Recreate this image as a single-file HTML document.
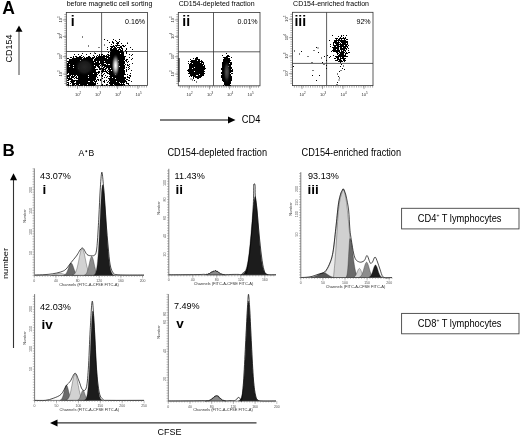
<!DOCTYPE html>
<html><head><meta charset="utf-8"><style>
html,body{margin:0;padding:0;background:#fff;width:520px;height:436px;overflow:hidden}
svg{display:block;filter:blur(0.3px)}
</style></head><body><svg width="520" height="436" viewBox="0 0 520 436" font-family='"Liberation Sans", sans-serif'><defs><radialGradient id="g1"><stop offset="0" stop-color="#fff"/><stop offset="0.3" stop-color="#ccc"/><stop offset="0.65" stop-color="#555"/><stop offset="1" stop-color="#000" stop-opacity="0"/></radialGradient><radialGradient id="g2"><stop offset="0" stop-color="#262626"/><stop offset="0.6" stop-color="#1a1a1a"/><stop offset="1" stop-color="#000" stop-opacity="0"/></radialGradient><radialGradient id="g3"><stop offset="0" stop-color="#555"/><stop offset="0.5" stop-color="#333"/><stop offset="1" stop-color="#000" stop-opacity="0"/></radialGradient></defs><text x="2.2" y="14.3" font-size="17.5" text-anchor="start" font-weight="bold" >A</text><line x1="19" y1="75" x2="19" y2="31" stroke="#444" stroke-width="1"/><path d="M15.5 31.8L22.5 31.8L19 25.5Z" fill="#000"/><text x="0" y="0" font-size="9" text-anchor="middle" font-weight="normal" transform="translate(12.2,48.5) rotate(-90)">CD154</text><rect x="66.3" y="12.5" width="81.2" height="73.0" fill="none" stroke="#333" stroke-width="0.8"/><line x1="101.6" y1="12.5" x2="101.6" y2="85.5" stroke="#333" stroke-width="0.8"/><line x1="66.3" y1="51.5" x2="147.5" y2="51.5" stroke="#333" stroke-width="0.8"/><path d="M64.3 14.5h2M64.3 16.8h2M64.3 19.1h2M64.3 21.4h2M64.3 23.7h2M64.3 26.0h2M64.3 28.3h2M64.3 30.6h2M64.3 32.9h2M64.3 35.2h2M64.3 37.5h2M64.3 39.8h2M64.3 42.1h2M64.3 44.4h2M64.3 46.7h2M64.3 49.0h2M64.3 51.3h2M64.3 53.6h2M64.3 55.9h2M64.3 58.2h2M64.3 60.5h2M64.3 62.8h2M64.3 65.1h2M64.3 67.4h2M64.3 69.7h2M64.3 72.0h2M64.3 74.3h2M64.3 76.6h2M64.3 78.9h2M64.3 81.2h2M64.3 83.5h2M62.8 19.9h3.5M62.8 36.5h3.5M62.8 56.7h3.5M62.8 74.0h3.5M68.3 85.5v2M70.6 85.5v2M72.9 85.5v2M75.2 85.5v2M77.5 85.5v2M79.8 85.5v2M82.1 85.5v2M84.4 85.5v2M86.7 85.5v2M89.0 85.5v2M91.3 85.5v2M93.6 85.5v2M95.9 85.5v2M98.2 85.5v2M100.5 85.5v2M102.8 85.5v2M105.1 85.5v2M107.4 85.5v2M109.7 85.5v2M112.0 85.5v2M114.3 85.5v2M116.6 85.5v2M118.9 85.5v2M121.2 85.5v2M123.5 85.5v2M125.8 85.5v2M128.1 85.5v2M130.4 85.5v2M132.7 85.5v2M135.0 85.5v2M137.3 85.5v2M139.6 85.5v2M141.9 85.5v2M144.2 85.5v2M146.5 85.5v2M77.5 85.5v3.5M97.5 85.5v3.5M117.5 85.5v3.5M138.0 85.5v3.5" stroke="#555" stroke-width="0.5"/><text font-size="4.2" transform="translate(61.699999999999996,22.5) rotate(-90)" fill="#333">10<tspan font-size="3" dy="-2.2">5</tspan></text><text font-size="4.2" transform="translate(61.699999999999996,39.1) rotate(-90)" fill="#333">10<tspan font-size="3" dy="-2.2">4</tspan></text><text font-size="4.2" transform="translate(61.699999999999996,59.300000000000004) rotate(-90)" fill="#333">10<tspan font-size="3" dy="-2.2">3</tspan></text><text font-size="4.2" transform="translate(61.699999999999996,76.6) rotate(-90)" fill="#333">10<tspan font-size="3" dy="-2.2">2</tspan></text><text font-size="4.2" x="74.9" y="95.8" fill="#333">10<tspan font-size="3" dy="-2.2">2</tspan></text><text font-size="4.2" x="94.9" y="95.8" fill="#333">10<tspan font-size="3" dy="-2.2">3</tspan></text><text font-size="4.2" x="114.9" y="95.8" fill="#333">10<tspan font-size="3" dy="-2.2">4</tspan></text><text font-size="4.2" x="135.4" y="95.8" fill="#333">10<tspan font-size="3" dy="-2.2">5</tspan></text><text x="66.7" y="6" font-size="7" text-anchor="start" font-weight="normal" >before magnetic cell sorting</text><text x="70.8" y="25.5" font-size="14" text-anchor="start" font-weight="bold" >i</text><text x="145.2" y="23.8" font-size="7.1" text-anchor="end" font-weight="normal" >0.16%</text><rect x="178.3" y="12.5" width="81.69999999999999" height="73.3" fill="none" stroke="#333" stroke-width="0.8"/><line x1="213.5" y1="12.5" x2="213.5" y2="85.8" stroke="#333" stroke-width="0.8"/><line x1="178.3" y1="51.8" x2="260" y2="51.8" stroke="#333" stroke-width="0.8"/><path d="M176.3 14.5h2M176.3 16.8h2M176.3 19.1h2M176.3 21.4h2M176.3 23.7h2M176.3 26.0h2M176.3 28.3h2M176.3 30.6h2M176.3 32.9h2M176.3 35.2h2M176.3 37.5h2M176.3 39.8h2M176.3 42.1h2M176.3 44.4h2M176.3 46.7h2M176.3 49.0h2M176.3 51.3h2M176.3 53.6h2M176.3 55.9h2M176.3 58.2h2M176.3 60.5h2M176.3 62.8h2M176.3 65.1h2M176.3 67.4h2M176.3 69.7h2M176.3 72.0h2M176.3 74.3h2M176.3 76.6h2M176.3 78.9h2M176.3 81.2h2M176.3 83.5h2M174.8 19.9h3.5M174.8 36.5h3.5M174.8 56.7h3.5M174.8 74.0h3.5M180.3 85.8v2M182.6 85.8v2M184.9 85.8v2M187.2 85.8v2M189.5 85.8v2M191.8 85.8v2M194.1 85.8v2M196.4 85.8v2M198.7 85.8v2M201.0 85.8v2M203.3 85.8v2M205.6 85.8v2M207.9 85.8v2M210.2 85.8v2M212.5 85.8v2M214.8 85.8v2M217.1 85.8v2M219.4 85.8v2M221.7 85.8v2M224.0 85.8v2M226.3 85.8v2M228.6 85.8v2M230.9 85.8v2M233.2 85.8v2M235.5 85.8v2M237.8 85.8v2M240.1 85.8v2M242.4 85.8v2M244.7 85.8v2M247.0 85.8v2M249.3 85.8v2M251.6 85.8v2M253.9 85.8v2M256.2 85.8v2M258.5 85.8v2M189.0 85.8v3.5M209.5 85.8v3.5M229.5 85.8v3.5M250.0 85.8v3.5" stroke="#555" stroke-width="0.5"/><text font-size="4.2" transform="translate(173.70000000000002,22.5) rotate(-90)" fill="#333">10<tspan font-size="3" dy="-2.2">5</tspan></text><text font-size="4.2" transform="translate(173.70000000000002,39.1) rotate(-90)" fill="#333">10<tspan font-size="3" dy="-2.2">4</tspan></text><text font-size="4.2" transform="translate(173.70000000000002,59.300000000000004) rotate(-90)" fill="#333">10<tspan font-size="3" dy="-2.2">3</tspan></text><text font-size="4.2" transform="translate(173.70000000000002,76.6) rotate(-90)" fill="#333">10<tspan font-size="3" dy="-2.2">2</tspan></text><text font-size="4.2" x="186.4" y="96.1" fill="#333">10<tspan font-size="3" dy="-2.2">2</tspan></text><text font-size="4.2" x="206.9" y="96.1" fill="#333">10<tspan font-size="3" dy="-2.2">3</tspan></text><text font-size="4.2" x="226.9" y="96.1" fill="#333">10<tspan font-size="3" dy="-2.2">4</tspan></text><text font-size="4.2" x="247.4" y="96.1" fill="#333">10<tspan font-size="3" dy="-2.2">5</tspan></text><text x="178.7" y="6" font-size="7" text-anchor="start" font-weight="normal" >CD154-depleted fraction</text><text x="182.3" y="25.5" font-size="14" text-anchor="start" font-weight="bold" >ii</text><text x="257.7" y="23.8" font-size="7.1" text-anchor="end" font-weight="normal" >0.01%</text><rect x="292.4" y="12.3" width="80.60000000000002" height="73.3" fill="none" stroke="#333" stroke-width="0.8"/><line x1="326.6" y1="12.3" x2="326.6" y2="85.6" stroke="#333" stroke-width="0.8"/><line x1="292.4" y1="63.4" x2="373" y2="63.4" stroke="#333" stroke-width="0.8"/><path d="M290.4 14.3h2M290.4 16.6h2M290.4 18.9h2M290.4 21.2h2M290.4 23.5h2M290.4 25.8h2M290.4 28.1h2M290.4 30.4h2M290.4 32.7h2M290.4 35.0h2M290.4 37.3h2M290.4 39.6h2M290.4 41.9h2M290.4 44.2h2M290.4 46.5h2M290.4 48.8h2M290.4 51.1h2M290.4 53.4h2M290.4 55.7h2M290.4 58.0h2M290.4 60.3h2M290.4 62.6h2M290.4 64.9h2M290.4 67.2h2M290.4 69.5h2M290.4 71.8h2M290.4 74.1h2M290.4 76.4h2M290.4 78.7h2M290.4 81.0h2M290.4 83.3h2M288.9 19.3h3.5M288.9 37.7h3.5M288.9 56.2h3.5M288.9 73.6h3.5M294.4 85.6v2M296.7 85.6v2M299.0 85.6v2M301.3 85.6v2M303.6 85.6v2M305.9 85.6v2M308.2 85.6v2M310.5 85.6v2M312.8 85.6v2M315.1 85.6v2M317.4 85.6v2M319.7 85.6v2M322.0 85.6v2M324.3 85.6v2M326.6 85.6v2M328.9 85.6v2M331.2 85.6v2M333.5 85.6v2M335.8 85.6v2M338.1 85.6v2M340.4 85.6v2M342.7 85.6v2M345.0 85.6v2M347.3 85.6v2M349.6 85.6v2M351.9 85.6v2M354.2 85.6v2M356.5 85.6v2M358.8 85.6v2M361.1 85.6v2M363.4 85.6v2M365.7 85.6v2M368.0 85.6v2M370.3 85.6v2M372.6 85.6v2M302.0 85.6v3.5M322.5 85.6v3.5M343.0 85.6v3.5M364.0 85.6v3.5" stroke="#555" stroke-width="0.5"/><text font-size="4.2" transform="translate(287.79999999999995,21.900000000000002) rotate(-90)" fill="#333">10<tspan font-size="3" dy="-2.2">5</tspan></text><text font-size="4.2" transform="translate(287.79999999999995,40.300000000000004) rotate(-90)" fill="#333">10<tspan font-size="3" dy="-2.2">4</tspan></text><text font-size="4.2" transform="translate(287.79999999999995,58.800000000000004) rotate(-90)" fill="#333">10<tspan font-size="3" dy="-2.2">3</tspan></text><text font-size="4.2" transform="translate(287.79999999999995,76.19999999999999) rotate(-90)" fill="#333">10<tspan font-size="3" dy="-2.2">2</tspan></text><text font-size="4.2" x="299.4" y="95.89999999999999" fill="#333">10<tspan font-size="3" dy="-2.2">2</tspan></text><text font-size="4.2" x="319.9" y="95.89999999999999" fill="#333">10<tspan font-size="3" dy="-2.2">3</tspan></text><text font-size="4.2" x="340.4" y="95.89999999999999" fill="#333">10<tspan font-size="3" dy="-2.2">4</tspan></text><text font-size="4.2" x="361.4" y="95.89999999999999" fill="#333">10<tspan font-size="3" dy="-2.2">5</tspan></text><text x="293.1" y="6" font-size="7" text-anchor="start" font-weight="normal" >CD154-enriched fraction</text><text x="294.4" y="25.5" font-size="14" text-anchor="start" font-weight="bold" >iii</text><text x="370.7" y="23.8" font-size="7.1" text-anchor="end" font-weight="normal" >92%</text><path fill="#000" d="M104 39h1v1h-1zM113 39h1v1h-1zM119 39h1v1h-1zM107 40h1v1h-1zM115 40h1v1h-1zM112 41h1v1h-1zM116 41h1v1h-1zM119 41h1v1h-1zM109 42h1v1h-1zM112 42h2v1h-2zM117 42h2v1h-2zM113 43h1v1h-1zM116 43h3v1h-3zM121 43h1v1h-1zM127 43h1v1h-1zM111 44h1v1h-1zM117 44h1v1h-1zM113 45h1v1h-1zM115 45h5v1h-5zM122 45h2v1h-2zM110 46h5v1h-5zM116 46h1v1h-1zM120 46h2v1h-2zM123 46h2v1h-2zM107 47h1v1h-1zM111 47h2v1h-2zM114 47h2v1h-2zM117 47h5v1h-5zM110 48h2v1h-2zM113 48h4v1h-4zM119 48h1v1h-1zM121 48h2v1h-2zM126 48h1v1h-1zM107 49h1v1h-1zM110 49h7v1h-7zM118 49h3v1h-3zM122 49h1v1h-1zM126 49h1v1h-1zM132 49h1v1h-1zM110 50h9v1h-9zM120 50h3v1h-3zM125 50h1v1h-1zM111 51h12v1h-12zM126 51h1v1h-1zM108 52h1v1h-1zM110 52h14v1h-14zM126 52h1v1h-1zM82 53h1v1h-1zM95 53h1v1h-1zM110 53h10v1h-10zM121 53h3v1h-3zM126 53h1v1h-1zM74 54h1v1h-1zM78 54h1v1h-1zM86 54h1v1h-1zM99 54h1v1h-1zM101 54h2v1h-2zM107 54h2v1h-2zM110 54h14v1h-14zM129 54h1v1h-1zM132 54h1v1h-1zM81 55h1v1h-1zM93 55h1v1h-1zM97 55h1v1h-1zM99 55h1v1h-1zM101 55h1v1h-1zM103 55h2v1h-2zM106 55h1v1h-1zM108 55h16v1h-16zM131 55h1v1h-1zM73 56h1v1h-1zM75 56h2v1h-2zM79 56h2v1h-2zM83 56h1v1h-1zM88 56h2v1h-2zM94 56h1v1h-1zM96 56h1v1h-1zM98 56h11v1h-11zM110 56h16v1h-16zM70 57h2v1h-2zM73 57h1v1h-1zM76 57h7v1h-7zM84 57h1v1h-1zM86 57h5v1h-5zM92 57h3v1h-3zM96 57h9v1h-9zM106 57h19v1h-19zM129 57h1v1h-1zM67 58h2v1h-2zM72 58h10v1h-10zM83 58h11v1h-11zM95 58h12v1h-12zM108 58h17v1h-17zM132 58h1v1h-1zM69 59h24v1h-24zM94 59h31v1h-31zM126 59h2v1h-2zM131 59h1v1h-1zM69 60h11v1h-11zM81 60h12v1h-12zM94 60h24v1h-24zM119 60h5v1h-5zM125 60h2v1h-2zM67 61h29v1h-29zM97 61h2v1h-2zM100 61h4v1h-4zM105 61h20v1h-20zM126 61h1v1h-1zM128 61h1v1h-1zM68 62h17v1h-17zM86 62h8v1h-8zM95 62h4v1h-4zM100 62h25v1h-25zM127 62h1v1h-1zM67 63h37v1h-37zM106 63h12v1h-12zM119 63h6v1h-6zM132 63h1v1h-1zM67 64h2v1h-2zM70 64h30v1h-30zM101 64h5v1h-5zM107 64h1v1h-1zM110 64h14v1h-14zM125 64h1v1h-1zM127 64h1v1h-1zM129 64h1v1h-1zM67 65h6v1h-6zM74 65h20v1h-20zM95 65h4v1h-4zM100 65h1v1h-1zM102 65h23v1h-23zM127 65h2v1h-2zM67 66h2v1h-2zM70 66h8v1h-8zM79 66h17v1h-17zM97 66h3v1h-3zM102 66h1v1h-1zM104 66h15v1h-15zM120 66h5v1h-5zM129 66h1v1h-1zM67 67h6v1h-6zM74 67h8v1h-8zM83 67h13v1h-13zM98 67h2v1h-2zM103 67h2v1h-2zM106 67h19v1h-19zM126 67h1v1h-1zM128 67h1v1h-1zM67 68h11v1h-11zM79 68h16v1h-16zM99 68h5v1h-5zM105 68h2v1h-2zM108 68h2v1h-2zM111 68h4v1h-4zM116 68h9v1h-9zM129 68h1v1h-1zM67 69h31v1h-31zM99 69h2v1h-2zM102 69h4v1h-4zM108 69h16v1h-16zM126 69h1v1h-1zM128 69h1v1h-1zM67 70h29v1h-29zM102 70h2v1h-2zM105 70h1v1h-1zM107 70h1v1h-1zM109 70h2v1h-2zM112 70h13v1h-13zM126 70h1v1h-1zM131 70h1v1h-1zM67 71h14v1h-14zM82 71h14v1h-14zM98 71h2v1h-2zM101 71h6v1h-6zM108 71h17v1h-17zM126 71h1v1h-1zM67 72h33v1h-33zM102 72h1v1h-1zM106 72h2v1h-2zM109 72h16v1h-16zM67 73h1v1h-1zM69 73h24v1h-24zM94 73h3v1h-3zM98 73h1v1h-1zM101 73h1v1h-1zM104 73h1v1h-1zM107 73h18v1h-18zM130 73h1v1h-1zM69 74h29v1h-29zM103 74h1v1h-1zM109 74h6v1h-6zM116 74h10v1h-10zM127 74h1v1h-1zM67 75h4v1h-4zM72 75h1v1h-1zM74 75h2v1h-2zM77 75h11v1h-11zM89 75h8v1h-8zM99 75h1v1h-1zM101 75h2v1h-2zM105 75h1v1h-1zM110 75h14v1h-14zM129 75h2v1h-2zM67 76h3v1h-3zM71 76h4v1h-4zM76 76h1v1h-1zM78 76h19v1h-19zM102 76h1v1h-1zM107 76h1v1h-1zM109 76h15v1h-15zM127 76h1v1h-1zM130 76h1v1h-1zM67 77h1v1h-1zM69 77h1v1h-1zM71 77h3v1h-3zM75 77h2v1h-2zM78 77h10v1h-10zM89 77h7v1h-7zM97 77h1v1h-1zM104 77h1v1h-1zM106 77h1v1h-1zM110 77h2v1h-2zM113 77h13v1h-13zM127 77h3v1h-3zM67 78h5v1h-5zM74 78h1v1h-1zM76 78h20v1h-20zM102 78h1v1h-1zM108 78h7v1h-7zM116 78h10v1h-10zM129 78h1v1h-1zM68 79h5v1h-5zM78 79h18v1h-18zM97 79h2v1h-2zM100 79h1v1h-1zM109 79h16v1h-16zM126 79h2v1h-2zM67 80h2v1h-2zM71 80h24v1h-24zM96 80h1v1h-1zM98 80h1v1h-1zM100 80h1v1h-1zM104 80h1v1h-1zM106 80h1v1h-1zM109 80h17v1h-17zM128 80h2v1h-2zM70 81h5v1h-5zM76 81h12v1h-12zM90 81h3v1h-3zM94 81h3v1h-3zM103 81h2v1h-2zM108 81h1v1h-1zM110 81h6v1h-6zM117 81h10v1h-10zM131 81h1v1h-1zM67 82h2v1h-2zM71 82h3v1h-3zM76 82h18v1h-18zM95 82h1v1h-1zM104 82h1v1h-1zM107 82h1v1h-1zM109 82h10v1h-10zM120 82h5v1h-5zM126 82h1v1h-1zM68 83h1v1h-1zM70 83h1v1h-1zM72 83h24v1h-24zM97 83h1v1h-1zM109 83h11v1h-11zM121 83h1v1h-1zM123 83h1v1h-1zM126 83h3v1h-3zM67 84h2v1h-2zM72 84h3v1h-3zM76 84h3v1h-3zM80 84h7v1h-7zM88 84h8v1h-8zM102 84h1v1h-1zM106 84h2v1h-2zM110 84h3v1h-3zM114 84h11v1h-11zM128 84h1v1h-1zM68 85h1v1h-1zM70 85h1v1h-1zM72 85h2v1h-2zM75 85h1v1h-1zM78 85h5v1h-5zM84 85h11v1h-11zM101 85h2v1h-2zM104 85h1v1h-1zM106 85h1v1h-1zM109 85h5v1h-5zM115 85h8v1h-8zM124 85h1v1h-1zM129 85h1v1h-1z"/><path fill="#000" d="M82.0 36.5h1v1h-1zM104.0 44.5h1v1h-1zM98.5 47.0h1v1h-1zM88.0 45.5h1v1h-1zM127.0 42.5h1v1h-1zM130.0 47.0h1v1h-1zM125.0 45.0h1v1h-1zM94.0 52.5h1v1h-1zM90.0 53.0h1v1h-1z"/><ellipse cx="84.5" cy="67" rx="10" ry="9" fill="url(#g2)"/><ellipse cx="115.6" cy="65.5" rx="4.3" ry="12" fill="url(#g1)"/><path fill="#000" d="M226 53h1v1h-1zM222 55h1v1h-1zM227 55h2v1h-2zM226 56h4v1h-4zM196 57h2v1h-2zM223 57h5v1h-5zM231 57h1v1h-1zM193 58h1v1h-1zM195 58h3v1h-3zM224 58h6v1h-6zM190 59h1v1h-1zM195 59h5v1h-5zM223 59h7v1h-7zM191 60h6v1h-6zM198 60h2v1h-2zM201 60h1v1h-1zM223 60h8v1h-8zM188 61h1v1h-1zM190 61h13v1h-13zM223 61h7v1h-7zM191 62h9v1h-9zM201 62h3v1h-3zM222 62h10v1h-10zM188 63h1v1h-1zM190 63h2v1h-2zM193 63h9v1h-9zM203 63h1v1h-1zM222 63h7v1h-7zM230 63h2v1h-2zM189 64h15v1h-15zM222 64h10v1h-10zM189 65h14v1h-14zM204 65h1v1h-1zM222 65h9v1h-9zM189 66h16v1h-16zM222 66h4v1h-4zM227 66h1v1h-1zM229 66h2v1h-2zM189 67h5v1h-5zM195 67h10v1h-10zM222 67h10v1h-10zM189 68h3v1h-3zM193 68h13v1h-13zM221 68h11v1h-11zM188 69h17v1h-17zM221 69h6v1h-6zM228 69h3v1h-3zM232 69h1v1h-1zM187 70h17v1h-17zM222 70h11v1h-11zM188 71h6v1h-6zM195 71h10v1h-10zM222 71h11v1h-11zM189 72h15v1h-15zM221 72h10v1h-10zM188 73h17v1h-17zM221 73h9v1h-9zM231 73h2v1h-2zM190 74h9v1h-9zM200 74h4v1h-4zM222 74h9v1h-9zM190 75h6v1h-6zM198 75h6v1h-6zM221 75h10v1h-10zM189 76h1v1h-1zM191 76h1v1h-1zM193 76h9v1h-9zM221 76h11v1h-11zM193 77h1v1h-1zM195 77h6v1h-6zM221 77h11v1h-11zM193 78h1v1h-1zM197 78h2v1h-2zM222 78h10v1h-10zM222 79h10v1h-10zM222 80h10v1h-10zM223 81h8v1h-8zM224 82h7v1h-7zM224 83h7v1h-7zM224 84h6v1h-6zM223 85h1v1h-1zM225 85h6v1h-6z"/><path fill="#000" d="M192.0 79.5h1v1h-1zM194.0 80.0h1v1h-1zM196.0 81.5h1v1h-1zM190.5 78.5h1v1h-1z"/><ellipse cx="226.8" cy="72" rx="3.6" ry="12" fill="url(#g3)"/><rect x="177.9" y="58" width="1.8" height="24" fill="#3a3a3a"/><path fill="#000" d="M332 35h1v1h-1zM341 35h1v1h-1zM343 35h1v1h-1zM346 35h1v1h-1zM338 36h1v1h-1zM341 36h1v1h-1zM340 37h1v1h-1zM343 37h1v1h-1zM345 37h1v1h-1zM335 38h3v1h-3zM339 38h7v1h-7zM336 39h1v1h-1zM338 39h2v1h-2zM341 39h1v1h-1zM344 39h1v1h-1zM346 39h2v1h-2zM329 40h1v1h-1zM334 40h12v1h-12zM334 41h3v1h-3zM338 41h1v1h-1zM340 41h8v1h-8zM333 42h7v1h-7zM341 42h7v1h-7zM333 43h1v1h-1zM335 43h4v1h-4zM340 43h1v1h-1zM342 43h4v1h-4zM347 43h1v1h-1zM330 44h1v1h-1zM333 44h1v1h-1zM336 44h12v1h-12zM333 45h6v1h-6zM340 45h4v1h-4zM345 45h2v1h-2zM348 45h1v1h-1zM330 46h1v1h-1zM334 46h2v1h-2zM337 46h11v1h-11zM332 47h7v1h-7zM340 47h2v1h-2zM343 47h3v1h-3zM347 47h1v1h-1zM333 48h6v1h-6zM340 48h7v1h-7zM348 48h1v1h-1zM333 49h3v1h-3zM337 49h2v1h-2zM340 49h5v1h-5zM346 49h1v1h-1zM332 50h8v1h-8zM341 50h1v1h-1zM343 50h3v1h-3zM348 50h1v1h-1zM331 51h1v1h-1zM333 51h7v1h-7zM341 51h3v1h-3zM345 51h1v1h-1zM336 52h2v1h-2zM339 52h6v1h-6zM346 52h1v1h-1zM348 52h2v1h-2zM337 53h2v1h-2zM340 53h4v1h-4zM345 53h3v1h-3zM337 54h1v1h-1zM339 54h5v1h-5zM345 54h1v1h-1zM333 55h1v1h-1zM338 55h8v1h-8zM335 56h13v1h-13zM336 57h3v1h-3zM340 57h1v1h-1zM342 57h2v1h-2zM334 58h2v1h-2zM337 58h2v1h-2zM340 58h6v1h-6zM337 59h4v1h-4zM343 59h2v1h-2zM335 60h3v1h-3zM339 60h3v1h-3zM343 60h3v1h-3zM338 61h5v1h-5zM344 61h1v1h-1zM340 62h1v1h-1z"/><path fill="#000" d="M299.0 53.5h1.0v1.0h-1.0zM307.5 56.0h1.0v1.0h-1.0zM313.5 50.0h1.0v1.0h-1.0zM317.5 47.5h1.0v1.0h-1.0zM321.0 57.5h1.0v1.0h-1.0zM323.5 64.0h1.0v1.0h-1.0zM326.0 65.0h1.0v1.0h-1.0zM312.5 70.0h1.0v1.0h-1.0zM319.0 75.0h1.0v1.0h-1.0zM316.0 80.0h1.0v1.0h-1.0zM324.0 56.0h1.0v1.0h-1.0zM322.0 62.0h1.0v1.0h-1.0zM326.0 60.0h1.0v1.0h-1.0zM327.0 55.0h1.0v1.0h-1.0zM329.0 57.0h1.0v1.0h-1.0zM330.0 56.0h1.0v1.0h-1.0zM326.0 68.0h1.0v1.0h-1.0zM316.0 47.0h1.0v1.0h-1.0zM318.0 52.0h1.0v1.0h-1.0zM312.0 75.0h1.0v1.0h-1.0zM301.0 51.0h1.0v1.0h-1.0zM294.0 50.5h1.0v1.0h-1.0zM293.0 66.0h1.0v1.0h-1.0zM311.5 62.0h1.0v1.0h-1.0zM340.0 66.0h1.0v1.0h-1.0zM342.0 68.0h1.0v1.0h-1.0zM339.0 71.0h1.0v1.0h-1.0zM337.0 73.5h1.0v1.0h-1.0zM338.0 76.0h1.0v1.0h-1.0zM339.0 77.5h1.0v1.0h-1.0zM337.0 82.0h1.0v1.0h-1.0zM341.0 64.0h1.0v1.0h-1.0zM343.0 65.5h1.0v1.0h-1.0zM338.5 79.5h1.0v1.0h-1.0zM336.5 84.0h1.0v1.0h-1.0zM340.5 70.0h1.0v1.0h-1.0zM344.0 69.0h1.0v1.0h-1.0z"/><line x1="160" y1="120" x2="229" y2="120" stroke="#000" stroke-width="1"/><path d="M228 116.5L235.5 120L228 123.5Z" fill="#000"/><text x="0" y="0" font-size="9.3" text-anchor="start" font-weight="normal" transform="translate(241.8,123.1) scale(1,1.12)">CD4</text><text x="2.6" y="155.8" font-size="17" text-anchor="start" font-weight="bold" >B</text><line x1="13.5" y1="348" x2="13.5" y2="180" stroke="#333" stroke-width="1.1"/><path d="M10 180.3L17.1 180.3L13.5 173.3Z" fill="#000"/><text x="0" y="0" font-size="7.6" text-anchor="middle" font-weight="normal" transform="translate(8.4,263.5) rotate(-90)" textLength="31" lengthAdjust="spacingAndGlyphs">number</text><line x1="256.5" y1="422.9" x2="57" y2="422.9" stroke="#333" stroke-width="1.2"/><path d="M57.5 419.4L50 422.9L57.5 426.4Z" fill="#000"/><text x="0" y="0" font-size="9" text-anchor="start" font-weight="normal" transform="translate(157.6,434.6) scale(1,1.1)">CFSE</text><text x="78.6" y="155.8" font-size="8.6" text-anchor="start" font-weight="normal" >A</text><circle cx="86.3" cy="151.3" r="0.95" fill="#111"/><text x="88.6" y="155.8" font-size="8.6" text-anchor="start" font-weight="normal" >B</text><text x="0" y="0" font-size="9.2" text-anchor="start" font-weight="normal" transform="translate(167.4,156.3) scale(1,1.17)">CD154-depleted fraction</text><text x="0" y="0" font-size="9.2" text-anchor="start" font-weight="normal" transform="translate(301.5,156.3) scale(1,1.17)">CD154-enriched fraction</text><rect x="401.6" y="208.3" width="117.4" height="20.6" fill="#fff" stroke="#444" stroke-width="0.9"/><text x="0" y="0" font-size="9.3" text-anchor="start" font-weight="normal" transform="translate(417.8,221.8) scale(1,1.17)">CD4<tspan font-size="5" dy="-4">+</tspan><tspan dy="4"> T lymphocytes</tspan></text><rect x="401.6" y="313.4" width="117.4" height="20.4" fill="#fff" stroke="#444" stroke-width="0.9"/><text x="0" y="0" font-size="9.3" text-anchor="start" font-weight="normal" transform="translate(417.8,326.7) scale(1,1.17)">CD8<tspan font-size="5" dy="-4">+</tspan><tspan dy="4"> T lymphocytes</tspan></text><path d="M51.55 275.4L51.55 275.19L51.80 275.16L52.05 275.12L52.30 275.09L52.55 275.05L52.80 275.00L53.05 274.96L53.30 274.91L53.55 274.85L53.80 274.80L54.05 274.74L54.30 274.68L54.55 274.61L54.80 274.54L55.05 274.47L55.30 274.40L55.55 274.32L55.80 274.25L56.05 274.17L56.30 274.10L56.55 274.02L56.80 273.95L57.05 273.88L57.30 273.81L57.55 273.74L57.80 273.68L58.05 273.62L58.30 273.57L58.55 273.53L58.80 273.49L59.05 273.46L59.30 273.43L59.55 273.41L59.80 273.40L60.05 273.40L60.30 273.41L60.55 273.42L60.80 273.44L61.05 273.47L61.30 273.50L61.55 273.54L61.80 273.59L62.05 273.65L62.30 273.70L62.55 273.77L62.80 273.83L63.05 273.90L63.30 273.98L63.55 274.05L63.80 274.13L64.05 274.20L64.30 274.28L64.55 274.35L64.80 274.43L65.05 274.50L65.30 274.57L65.55 274.64L65.80 274.70L66.05 274.76L66.30 274.82L66.55 274.88L66.80 274.93L67.05 274.98L67.30 275.02L67.55 275.06L67.80 275.10L68.05 275.14L68.30 275.17L68.55 275.20L68.55 275.4Z" fill="#d2d2d2" stroke="#222" stroke-width="0.35"/><path d="M63.80 275.4L63.80 275.16L64.05 275.09L64.30 275.00L64.55 274.89L64.80 274.75L65.05 274.58L65.30 274.38L65.55 274.14L65.80 273.86L66.05 273.53L66.30 273.16L66.55 272.74L66.80 272.27L67.05 271.74L67.30 271.17L67.55 270.56L67.80 269.90L68.05 269.22L68.30 268.51L68.55 267.80L68.80 267.08L69.05 266.39L69.30 265.72L69.55 265.10L69.80 264.55L70.05 264.06L70.30 263.67L70.55 263.37L70.80 263.18L71.05 263.10L71.30 263.14L71.55 263.28L71.80 263.54L72.05 263.89L72.30 264.34L72.55 264.87L72.80 265.47L73.05 266.12L73.30 266.80L73.55 267.51L73.80 268.23L74.05 268.94L74.30 269.63L74.55 270.30L74.80 270.93L75.05 271.52L75.30 272.06L75.55 272.56L75.80 273.00L76.05 273.39L76.30 273.74L76.55 274.03L76.80 274.29L77.05 274.50L77.30 274.68L77.55 274.83L77.80 274.96L78.05 275.05L78.30 275.13L78.55 275.20L78.55 275.4Z" fill="#6a6a6a" stroke="#222" stroke-width="0.35"/><path d="M72.30 275.4L72.30 275.18L72.55 275.12L72.80 275.04L73.05 274.95L73.30 274.84L73.55 274.71L73.80 274.55L74.05 274.35L74.30 274.13L74.55 273.86L74.80 273.55L75.05 273.19L75.30 272.78L75.55 272.31L75.80 271.77L76.05 271.17L76.30 270.50L76.55 269.76L76.80 268.95L77.05 268.06L77.30 267.10L77.55 266.08L77.80 264.99L78.05 263.84L78.30 262.65L78.55 261.42L78.80 260.16L79.05 258.89L79.30 257.63L79.55 256.38L79.80 255.17L80.05 254.01L80.30 252.93L80.55 251.94L80.80 251.05L81.05 250.28L81.30 249.64L81.55 249.15L81.80 248.81L82.05 248.63L82.30 248.61L82.55 248.76L82.80 249.07L83.05 249.53L83.30 250.14L83.55 250.88L83.80 251.75L84.05 252.72L84.30 253.79L84.55 254.93L84.80 256.13L85.05 257.37L85.30 258.64L85.55 259.91L85.80 261.17L86.05 262.40L86.30 263.61L86.55 264.76L86.80 265.86L87.05 266.90L87.30 267.87L87.55 268.78L87.80 269.60L88.05 270.36L88.30 271.04L88.55 271.66L88.80 272.21L89.05 272.69L89.30 273.11L89.55 273.48L89.80 273.80L90.05 274.08L90.30 274.31L90.55 274.51L90.80 274.68L91.05 274.81L91.30 274.93L91.55 275.02L91.80 275.10L92.05 275.17L92.05 275.4Z" fill="#d2d2d2" stroke="#222" stroke-width="0.35"/><path d="M84.30 275.4L84.30 275.16L84.55 275.08L84.80 274.98L85.05 274.85L85.30 274.69L85.55 274.48L85.80 274.23L86.05 273.93L86.30 273.57L86.55 273.14L86.80 272.63L87.05 272.05L87.30 271.38L87.55 270.63L87.80 269.80L88.05 268.89L88.30 267.90L88.55 266.85L88.80 265.76L89.05 264.62L89.30 263.48L89.55 262.34L89.80 261.24L90.05 260.20L90.30 259.24L90.55 258.40L90.80 257.69L91.05 257.13L91.30 256.74L91.55 256.53L91.80 256.52L92.05 256.68L92.30 257.04L92.55 257.56L92.80 258.24L93.05 259.06L93.30 260.00L93.55 261.03L93.80 262.12L94.05 263.25L94.30 264.39L94.55 265.53L94.80 266.64L95.05 267.70L95.30 268.70L95.55 269.63L95.80 270.47L96.05 271.24L96.30 271.92L96.55 272.52L96.80 273.04L97.05 273.49L97.30 273.86L97.55 274.18L97.80 274.44L98.05 274.65L98.30 274.82L98.55 274.96L98.80 275.07L99.05 275.15L99.05 275.4Z" fill="#8c8c8c" stroke="#222" stroke-width="0.35"/><path d="M93.55 275.4L93.55 275.19L93.80 275.11L94.05 274.99L94.30 274.85L94.55 274.65L94.80 274.39L95.05 274.06L95.30 273.64L95.55 273.11L95.80 272.44L96.05 271.61L96.30 270.59L96.55 269.36L96.80 267.87L97.05 266.12L97.30 264.05L97.55 261.66L97.80 258.92L98.05 255.81L98.30 252.32L98.55 248.47L98.80 244.26L99.05 239.73L99.30 234.91L99.55 229.87L99.80 224.67L100.05 219.39L100.30 214.14L100.55 209.01L100.80 204.11L101.05 199.55L101.30 195.45L101.55 191.89L101.80 188.99L102.05 186.80L102.30 185.40L102.55 184.82L102.80 184.96L103.05 185.59L103.30 186.70L103.55 188.27L103.80 190.27L104.05 192.68L104.30 195.45L104.55 198.54L104.80 201.91L105.05 205.52L105.30 209.30L105.55 213.22L105.80 217.22L106.05 221.26L106.30 225.28L106.55 229.26L106.80 233.16L107.05 236.93L107.30 240.55L107.55 244.00L107.80 247.27L108.05 250.33L108.30 253.18L108.55 255.81L108.80 258.22L109.05 260.42L109.30 262.40L109.55 264.19L109.80 265.78L110.05 267.19L110.30 268.43L110.55 269.51L110.80 270.46L111.05 271.27L111.30 271.97L111.55 272.57L111.80 273.07L112.05 273.50L112.30 273.85L112.55 274.15L112.80 274.39L113.05 274.59L113.30 274.76L113.55 274.89L113.80 275.00L114.05 275.09L114.30 275.16L114.30 275.4Z" fill="#1c1c1c" stroke="#222" stroke-width="0.35"/><path d="M34.80 275.00C36.50 274.93 42.03 274.80 45.00 274.60C47.97 274.40 50.00 274.23 52.60 273.80C55.20 273.37 58.40 272.75 60.60 272.00C62.80 271.25 64.05 270.88 65.80 269.30C67.55 267.72 69.33 264.72 71.10 262.50C72.87 260.28 74.55 258.42 76.40 256.00C78.25 253.58 80.43 248.25 82.20 248.00C83.97 247.75 85.42 253.20 87.00 254.50C88.58 255.80 90.40 255.72 91.70 255.80C93.00 255.88 94.02 255.80 94.80 255.00C95.58 254.20 95.95 253.50 96.40 251.00C96.85 248.50 97.08 245.83 97.50 240.00C97.92 234.17 98.45 224.33 98.90 216.00C99.35 207.67 99.72 197.30 100.20 190.00C100.68 182.70 101.25 172.87 101.80 172.20C102.35 171.53 102.98 180.53 103.50 186.00C104.02 191.47 104.43 198.50 104.90 205.00C105.37 211.50 105.77 218.17 106.30 225.00C106.83 231.83 107.45 239.33 108.10 246.00C108.75 252.67 109.32 260.45 110.20 265.00C111.08 269.55 112.20 271.70 113.40 273.30C114.60 274.90 115.47 274.32 117.40 274.60C119.33 274.88 120.57 274.93 125.00 275.00C129.43 275.07 140.83 275.00 144.00 275.00" fill="none" stroke="#000" stroke-width="0.7"/><line x1="34.3" y1="168.4" x2="34.3" y2="275.4" stroke="#444" stroke-width="0.7"/><line x1="34.3" y1="275.4" x2="144" y2="275.4" stroke="#444" stroke-width="0.7"/><path d="M32.5 275.4h1.8M32.5 272.8h1.8M32.5 270.2h1.8M32.5 267.6h1.8M32.5 265.0h1.8M32.5 262.4h1.8M32.5 259.8h1.8M32.5 257.2h1.8M32.5 254.6h1.8M32.5 252.0h1.8M32.5 249.4h1.8M32.5 246.8h1.8M32.5 244.2h1.8M32.5 241.6h1.8M32.5 239.0h1.8M32.5 236.4h1.8M32.5 233.8h1.8M32.5 231.2h1.8M32.5 228.6h1.8M32.5 226.0h1.8M32.5 223.4h1.8M32.5 220.8h1.8M32.5 218.2h1.8M32.5 215.6h1.8M32.5 213.0h1.8M32.5 210.4h1.8M32.5 207.8h1.8M32.5 205.2h1.8M32.5 202.6h1.8M32.5 200.0h1.8M32.5 197.4h1.8M32.5 194.8h1.8M32.5 192.2h1.8M32.5 189.6h1.8M32.5 187.0h1.8M32.5 184.4h1.8M32.5 181.8h1.8M32.5 179.2h1.8M32.5 176.6h1.8M32.5 174.0h1.8M32.5 171.4h1.8M32.5 168.8h1.8M34.3 275.4v1.5M37.0 275.4v1.5M39.7 275.4v1.5M42.4 275.4v1.5M45.1 275.4v1.5M47.8 275.4v1.5M50.5 275.4v1.5M53.2 275.4v1.5M55.9 275.4v1.5M58.7 275.4v1.5M61.4 275.4v1.5M64.1 275.4v1.5M66.8 275.4v1.5M69.5 275.4v1.5M72.2 275.4v1.5M74.9 275.4v1.5M77.6 275.4v1.5M80.3 275.4v1.5M83.0 275.4v1.5M85.7 275.4v1.5M88.4 275.4v1.5M91.1 275.4v1.5M93.8 275.4v1.5M96.5 275.4v1.5M99.2 275.4v1.5M102.0 275.4v1.5M104.7 275.4v1.5M107.4 275.4v1.5M110.1 275.4v1.5M112.8 275.4v1.5M115.5 275.4v1.5M118.2 275.4v1.5M120.9 275.4v1.5M123.6 275.4v1.5M126.3 275.4v1.5M129.0 275.4v1.5M131.7 275.4v1.5M134.4 275.4v1.5M137.1 275.4v1.5M139.8 275.4v1.5M142.5 275.4v1.5M34.3 275.4v3M55.9 275.4v3M77.6 275.4v3M99.2 275.4v3M120.9 275.4v3M142.6 275.4v3" stroke="#666" stroke-width="0.4"/><text font-size="3.5" x="34.3" y="281.9" text-anchor="middle" fill="#555">0</text><text font-size="3.5" x="55.9" y="281.9" text-anchor="middle" fill="#555">40</text><text font-size="3.5" x="77.6" y="281.9" text-anchor="middle" fill="#555">80</text><text font-size="3.5" x="99.2" y="281.9" text-anchor="middle" fill="#555">120</text><text font-size="3.5" x="120.9" y="281.9" text-anchor="middle" fill="#555">160</text><text font-size="3.5" x="142.6" y="281.9" text-anchor="middle" fill="#555">200</text><text font-size="4" x="89.0" y="285.59999999999997" text-anchor="middle" fill="#333">Channels (FITC-A-CFSE FITC-A)</text><text font-size="3.8" transform="translate(25.699999999999996,216) rotate(-90)" text-anchor="middle" fill="#444">Number</text><text font-size="3.6" transform="translate(31.699999999999996,253) rotate(-90)" text-anchor="middle" fill="#555">50</text><text font-size="3.6" transform="translate(31.699999999999996,232) rotate(-90)" text-anchor="middle" fill="#555">100</text><text font-size="3.6" transform="translate(31.699999999999996,211) rotate(-90)" text-anchor="middle" fill="#555">150</text><text font-size="3.6" transform="translate(31.699999999999996,190) rotate(-90)" text-anchor="middle" fill="#555">200</text><text x="40.1" y="179.2" font-size="9.1" text-anchor="start" font-weight="normal" >43.07%</text><text x="42.6" y="193.8" font-size="13.5" text-anchor="start" font-weight="bold" >i</text><path d="M206.00 274.90C206.00 274.84 205.85 274.68 206.00 274.57C206.15 274.45 206.60 274.23 206.90 274.20C207.20 274.16 207.50 274.46 207.80 274.35C208.10 274.23 208.40 273.65 208.70 273.52C209.00 273.38 209.30 273.62 209.60 273.52C209.90 273.42 210.20 273.18 210.50 272.92C210.80 272.66 211.10 272.14 211.40 271.96C211.70 271.78 212.00 271.95 212.30 271.82C212.60 271.69 212.90 271.24 213.20 271.18C213.50 271.13 213.80 271.59 214.10 271.48C214.40 271.36 214.70 270.60 215.00 270.50C215.30 270.39 215.60 270.71 215.90 270.87C216.20 271.03 216.50 271.34 216.80 271.43C217.10 271.52 217.40 271.24 217.70 271.41C218.00 271.58 218.30 272.23 218.60 272.48C218.90 272.73 219.20 272.70 219.50 272.90C219.80 273.09 220.10 273.50 220.40 273.66C220.70 273.82 221.00 273.77 221.30 273.88C221.60 273.99 221.90 274.21 222.20 274.31C222.50 274.42 222.80 274.48 223.10 274.50C223.40 274.53 223.70 274.44 224.00 274.48C224.30 274.52 224.73 274.67 224.90 274.74C225.07 274.81 224.98 274.87 225.00 274.90Z" fill="#8a8a8a" stroke="#222" stroke-width="0.35"/><path d="M241.05 274.9L241.05 274.66L241.30 274.61L241.55 274.56L241.80 274.49L242.05 274.41L242.30 274.32L242.55 274.21L242.80 274.08L243.05 273.94L243.30 273.77L243.55 273.57L243.80 273.34L244.05 273.08L244.30 272.78L244.55 272.44L244.80 272.06L245.05 271.62L245.30 271.12L245.55 270.56L245.80 269.94L246.05 269.24L246.30 268.46L246.55 267.59L246.80 266.63L247.05 265.57L247.30 264.40L247.55 263.13L247.80 261.74L248.05 260.23L248.30 258.60L248.55 256.85L248.80 254.96L249.05 252.95L249.30 250.80L249.55 248.54L249.80 246.15L250.05 243.64L250.30 241.03L250.55 238.31L250.80 235.52L251.05 232.64L251.30 229.72L251.55 226.75L251.80 223.77L252.05 220.80L252.30 217.86L252.55 214.98L252.80 212.18L253.05 209.51L253.30 206.99L253.55 204.65L253.80 202.52L254.05 200.65L254.30 199.07L254.55 197.82L254.80 196.95L255.05 196.52L255.30 196.75L255.55 197.58L255.80 198.87L256.05 200.56L256.30 202.60L256.55 204.93L256.80 207.52L257.05 210.32L257.30 213.29L257.55 216.38L257.80 219.56L258.05 222.80L258.30 226.05L258.55 229.29L258.80 232.49L259.05 235.62L259.30 238.66L259.55 241.61L259.80 244.43L260.05 247.12L260.30 249.66L260.55 252.07L260.80 254.32L261.05 256.41L261.30 258.36L261.55 260.15L261.80 261.80L262.05 263.30L262.30 264.67L262.55 265.91L262.80 267.02L263.05 268.02L263.30 268.92L263.55 269.72L263.80 270.42L264.05 271.05L264.30 271.59L264.55 272.07L264.80 272.49L265.05 272.85L265.30 273.17L265.55 273.44L265.80 273.67L266.05 273.87L266.30 274.04L266.55 274.18L266.80 274.30L267.05 274.41L267.30 274.49L267.55 274.57L267.80 274.63L268.05 274.68L268.05 274.9Z" fill="#1c1c1c" stroke="#222" stroke-width="0.35"/><path d="M168.60 274.80C171.33 274.78 179.77 274.75 185.00 274.70C190.23 274.65 196.83 274.57 200.00 274.50C203.17 274.43 203.00 274.29 204.00 274.30C205.00 274.31 205.52 274.58 206.00 274.57C206.48 274.55 206.60 274.23 206.90 274.20C207.20 274.16 207.50 274.46 207.80 274.35C208.10 274.23 208.40 273.65 208.70 273.52C209.00 273.38 209.30 273.62 209.60 273.52C209.90 273.42 210.20 273.18 210.50 272.92C210.80 272.66 211.10 272.14 211.40 271.96C211.70 271.78 212.00 271.95 212.30 271.82C212.60 271.69 212.90 271.24 213.20 271.18C213.50 271.13 213.80 271.59 214.10 271.48C214.40 271.36 214.70 270.60 215.00 270.50C215.30 270.39 215.60 270.71 215.90 270.87C216.20 271.03 216.50 271.34 216.80 271.43C217.10 271.52 217.40 271.24 217.70 271.41C218.00 271.58 218.30 272.23 218.60 272.48C218.90 272.73 219.20 272.70 219.50 272.90C219.80 273.09 220.10 273.50 220.40 273.66C220.70 273.82 221.00 273.77 221.30 273.88C221.60 273.99 221.90 274.21 222.20 274.31C222.50 274.42 222.80 274.48 223.10 274.50C223.40 274.53 223.70 274.44 224.00 274.48C224.30 274.52 223.90 274.74 224.90 274.74C225.90 274.75 227.82 274.56 230.00 274.50C232.18 274.44 236.17 274.37 238.00 274.40C239.83 274.43 240.35 274.72 241.00 274.69C241.65 274.67 241.60 274.55 241.90 274.25C242.20 273.96 242.50 273.20 242.80 272.92C243.10 272.65 243.40 272.81 243.70 272.59C244.00 272.37 244.30 271.67 244.60 271.59C244.90 271.50 245.20 271.74 245.50 272.09C245.80 272.45 246.07 274.39 246.40 273.71C246.73 273.03 246.90 271.95 247.50 268.00C248.10 264.05 249.17 257.67 250.00 250.00C250.83 242.33 251.90 231.00 252.50 222.00C253.10 213.00 253.40 202.17 253.60 196.00C253.80 189.83 253.47 186.83 253.70 185.00C253.93 183.17 254.73 183.17 255.00 185.00C255.27 186.83 254.97 191.83 255.30 196.00C255.63 200.17 256.38 203.83 257.00 210.00C257.62 216.17 258.25 225.33 259.00 233.00C259.75 240.67 260.67 249.83 261.50 256.00C262.33 262.17 263.08 266.93 264.00 270.00C264.92 273.07 265.00 273.62 267.00 274.40C269.00 275.18 274.50 274.65 276.00 274.70" fill="none" stroke="#000" stroke-width="0.7"/><line x1="168.8" y1="168.8" x2="168.8" y2="274.9" stroke="#444" stroke-width="0.7"/><line x1="168.8" y1="274.9" x2="276" y2="274.9" stroke="#444" stroke-width="0.7"/><path d="M167.0 274.9h1.8M167.0 272.3h1.8M167.0 269.7h1.8M167.0 267.1h1.8M167.0 264.5h1.8M167.0 261.9h1.8M167.0 259.3h1.8M167.0 256.7h1.8M167.0 254.1h1.8M167.0 251.5h1.8M167.0 248.9h1.8M167.0 246.3h1.8M167.0 243.7h1.8M167.0 241.1h1.8M167.0 238.5h1.8M167.0 235.9h1.8M167.0 233.3h1.8M167.0 230.7h1.8M167.0 228.1h1.8M167.0 225.5h1.8M167.0 222.9h1.8M167.0 220.3h1.8M167.0 217.7h1.8M167.0 215.1h1.8M167.0 212.5h1.8M167.0 209.9h1.8M167.0 207.3h1.8M167.0 204.7h1.8M167.0 202.1h1.8M167.0 199.5h1.8M167.0 196.9h1.8M167.0 194.3h1.8M167.0 191.7h1.8M167.0 189.1h1.8M167.0 186.5h1.8M167.0 183.9h1.8M167.0 181.3h1.8M167.0 178.7h1.8M167.0 176.1h1.8M167.0 173.5h1.8M167.0 170.9h1.8M168.8 274.9v1.5M171.8 274.9v1.5M174.8 274.9v1.5M177.8 274.9v1.5M180.8 274.9v1.5M183.8 274.9v1.5M186.8 274.9v1.5M189.8 274.9v1.5M192.8 274.9v1.5M195.8 274.9v1.5M198.8 274.9v1.5M201.8 274.9v1.5M204.8 274.9v1.5M207.8 274.9v1.5M210.8 274.9v1.5M213.8 274.9v1.5M216.8 274.9v1.5M219.8 274.9v1.5M222.8 274.9v1.5M225.8 274.9v1.5M228.8 274.9v1.5M231.8 274.9v1.5M234.8 274.9v1.5M237.8 274.9v1.5M240.8 274.9v1.5M243.8 274.9v1.5M246.8 274.9v1.5M249.8 274.9v1.5M252.8 274.9v1.5M255.8 274.9v1.5M258.8 274.9v1.5M261.8 274.9v1.5M264.8 274.9v1.5M267.8 274.9v1.5M270.8 274.9v1.5M273.8 274.9v1.5M168.8 274.9v3M192.8 274.9v3M216.8 274.9v3M240.8 274.9v3M264.8 274.9v3" stroke="#666" stroke-width="0.4"/><text font-size="3.5" x="168.8" y="281.4" text-anchor="middle" fill="#555">0</text><text font-size="3.5" x="192.8" y="281.4" text-anchor="middle" fill="#555">40</text><text font-size="3.5" x="216.8" y="281.4" text-anchor="middle" fill="#555">80</text><text font-size="3.5" x="240.8" y="281.4" text-anchor="middle" fill="#555">120</text><text font-size="3.5" x="264.8" y="281.4" text-anchor="middle" fill="#555">160</text><text font-size="4" x="223.5" y="285.09999999999997" text-anchor="middle" fill="#333">Channels (FITC-A-CFSE FITC-A)</text><text font-size="3.8" transform="translate(160.20000000000002,208) rotate(-90)" text-anchor="middle" fill="#444">Number</text><text font-size="3.6" transform="translate(166.20000000000002,254.5) rotate(-90)" text-anchor="middle" fill="#555">20</text><text font-size="3.6" transform="translate(166.20000000000002,236) rotate(-90)" text-anchor="middle" fill="#555">40</text><text font-size="3.6" transform="translate(166.20000000000002,218) rotate(-90)" text-anchor="middle" fill="#555">60</text><text font-size="3.6" transform="translate(166.20000000000002,199.5) rotate(-90)" text-anchor="middle" fill="#555">80</text><text font-size="3.6" transform="translate(166.20000000000002,183) rotate(-90)" text-anchor="middle" fill="#555">100</text><text x="174.6" y="179" font-size="9.1" text-anchor="start" font-weight="normal" >11.43%</text><text x="175.5" y="193.8" font-size="13.5" text-anchor="start" font-weight="bold" >ii</text><path d="M319.00 277.50C319.92 276.78 322.78 275.28 324.50 273.20C326.22 271.12 327.90 268.37 329.30 265.00C330.70 261.63 331.82 259.00 332.90 253.00C333.98 247.00 334.88 237.00 335.80 229.00C336.72 221.00 337.60 210.75 338.40 205.00C339.20 199.25 339.93 196.92 340.60 194.50C341.27 192.08 341.97 191.33 342.40 190.50C342.83 189.67 342.77 187.92 343.20 189.50C343.63 191.08 344.53 185.33 345.00 200.00C345.47 214.67 345.83 264.58 346.00 277.50Z" fill="#ececec" stroke="#222" stroke-width="0.35"/><path d="M311.05 277.5L311.05 277.28L311.30 277.26L311.55 277.22L311.80 277.19L312.05 277.15L312.30 277.11L312.55 277.06L312.80 277.01L313.05 276.96L313.30 276.90L313.55 276.84L313.80 276.77L314.05 276.70L314.30 276.62L314.55 276.53L314.80 276.44L315.05 276.35L315.30 276.25L315.55 276.14L315.80 276.03L316.05 275.92L316.30 275.80L316.55 275.67L316.80 275.54L317.05 275.41L317.30 275.27L317.55 275.14L317.80 274.99L318.05 274.85L318.30 274.71L318.55 274.56L318.80 274.41L319.05 274.27L319.30 274.13L319.55 273.99L319.80 273.85L320.05 273.72L320.30 273.59L320.55 273.47L320.80 273.35L321.05 273.24L321.30 273.14L321.55 273.05L321.80 272.97L322.05 272.90L322.30 272.84L322.55 272.79L322.80 272.75L323.05 272.72L323.30 272.70L323.55 272.70L323.80 272.71L324.05 272.74L324.30 272.79L324.55 272.85L324.80 272.92L325.05 273.02L325.30 273.12L325.55 273.24L325.80 273.37L326.05 273.51L326.30 273.66L326.55 273.81L326.80 273.97L327.05 274.14L327.30 274.31L327.55 274.48L327.80 274.66L328.05 274.83L328.30 275.00L328.55 275.17L328.80 275.34L329.05 275.50L329.30 275.65L329.55 275.80L329.80 275.94L330.05 276.08L330.30 276.21L330.55 276.33L330.80 276.44L331.05 276.55L331.30 276.64L331.55 276.74L331.80 276.82L332.05 276.90L332.30 276.97L332.55 277.03L332.80 277.09L333.05 277.14L333.30 277.18L333.55 277.23L333.80 277.26L334.05 277.30L334.05 277.5Z" fill="#555" stroke="#222" stroke-width="0.35"/><path d="M333.50 277.50C333.75 274.75 334.50 267.25 335.00 261.00C335.50 254.75 336.00 247.50 336.50 240.00C337.00 232.50 337.48 222.33 338.00 216.00C338.52 209.67 339.03 205.58 339.60 202.00C340.17 198.42 340.80 196.53 341.40 194.50C342.00 192.47 342.67 190.13 343.20 189.80C343.73 189.47 344.10 190.80 344.60 192.50C345.10 194.20 345.67 196.42 346.20 200.00C346.73 203.58 347.30 209.17 347.80 214.00C348.30 218.83 348.73 223.67 349.20 229.00C349.67 234.33 350.13 240.33 350.60 246.00C351.07 251.67 351.52 257.75 352.00 263.00C352.48 268.25 353.25 275.08 353.50 277.50Z" fill="#d0d0d0" stroke="#222" stroke-width="0.35"/><path d="M345.80 277.5L345.80 277.29L346.05 277.11L346.30 276.82L346.55 276.35L346.80 275.61L347.05 274.53L347.30 272.99L347.55 270.90L347.80 268.19L348.05 264.84L348.30 260.91L348.55 256.56L348.80 252.03L349.05 247.64L349.30 243.76L349.55 240.77L349.80 238.96L350.05 238.51L350.30 238.71L350.55 239.20L350.80 239.96L351.05 240.97L351.30 242.23L351.55 243.69L351.80 245.33L352.05 247.12L352.30 249.02L352.55 251.00L352.80 253.03L353.05 255.07L353.30 257.09L353.55 259.06L353.80 260.97L354.05 262.79L354.30 264.51L354.55 266.11L354.80 267.59L355.05 268.94L355.30 270.16L355.55 271.25L355.80 272.22L356.05 273.07L356.30 273.82L356.55 274.46L356.80 275.00L357.05 275.47L357.30 275.86L357.55 276.18L357.80 276.45L358.05 276.67L358.30 276.85L358.55 276.99L358.80 277.11L359.05 277.20L359.30 277.27L359.30 277.5Z" fill="#6a6a6a" stroke="#222" stroke-width="0.35"/><path d="M353.55 277.5L353.55 277.24L353.80 277.15L354.05 277.03L354.30 276.89L354.55 276.71L354.80 276.49L355.05 276.23L355.30 275.91L355.55 275.55L355.80 275.14L356.05 274.68L356.30 274.17L356.55 273.61L356.80 273.02L357.05 272.41L357.30 271.79L357.55 271.18L357.80 270.59L358.05 270.04L358.30 269.56L358.55 269.15L358.80 268.83L359.05 268.61L359.30 268.51L359.55 268.52L359.80 268.65L360.05 268.88L360.30 269.22L360.55 269.65L360.80 270.15L361.05 270.71L361.30 271.30L361.55 271.92L361.80 272.54L362.05 273.14L362.30 273.72L362.55 274.27L362.80 274.77L363.05 275.23L363.30 275.63L363.55 275.98L363.80 276.28L364.05 276.54L364.30 276.75L364.55 276.92L364.80 277.06L365.05 277.17L365.30 277.25L365.30 277.5Z" fill="#d4d4d4" stroke="#222" stroke-width="0.35"/><path d="M359.05 277.5L359.05 277.27L359.30 277.20L359.55 277.11L359.80 277.00L360.05 276.86L360.30 276.69L360.55 276.48L360.80 276.23L361.05 275.93L361.30 275.58L361.55 275.18L361.80 274.72L362.05 274.19L362.30 273.60L362.55 272.95L362.80 272.24L363.05 271.48L363.30 270.66L363.55 269.81L363.80 268.93L364.05 268.04L364.30 267.15L364.55 266.29L364.80 265.46L365.05 264.69L365.30 264.00L365.55 263.40L365.80 262.91L366.05 262.54L366.30 262.30L366.55 262.20L366.80 262.25L367.05 262.43L367.30 262.74L367.55 263.19L367.80 263.75L368.05 264.40L368.30 265.14L368.55 265.95L368.80 266.80L369.05 267.69L369.30 268.58L369.55 269.46L369.80 270.33L370.05 271.16L370.30 271.94L370.55 272.67L370.80 273.35L371.05 273.96L371.30 274.51L371.55 275.00L371.80 275.43L372.05 275.80L372.30 276.12L372.55 276.38L372.80 276.61L373.05 276.79L373.30 276.95L373.55 277.07L373.80 277.17L374.05 277.25L374.05 277.5Z" fill="#8c8c8c" stroke="#222" stroke-width="0.35"/><path d="M368.80 277.5L368.80 277.25L369.05 277.16L369.30 277.06L369.55 276.92L369.80 276.76L370.05 276.55L370.30 276.30L370.55 276.01L370.80 275.66L371.05 275.26L371.30 274.80L371.55 274.27L371.80 273.69L372.05 273.05L372.30 272.36L372.55 271.63L372.80 270.86L373.05 270.08L373.30 269.29L373.55 268.51L373.80 267.77L374.05 267.09L374.30 266.47L374.55 265.94L374.80 265.52L375.05 265.22L375.30 265.04L375.55 265.00L375.80 265.10L376.05 265.32L376.30 265.68L376.55 266.14L376.80 266.71L377.05 267.35L377.30 268.06L377.55 268.82L377.80 269.60L378.05 270.39L378.30 271.17L378.55 271.93L378.80 272.64L379.05 273.31L379.30 273.93L379.55 274.49L379.80 274.99L380.05 275.43L380.30 275.81L380.55 276.13L380.80 276.41L381.05 276.64L381.30 276.83L381.55 276.98L381.80 277.10L382.05 277.20L382.30 277.27L382.30 277.5Z" fill="#1c1c1c" stroke="#222" stroke-width="0.35"/><path d="M300.50 277.50C301.42 277.47 304.08 277.48 306.00 277.30C307.92 277.12 310.00 276.90 312.00 276.40C314.00 275.90 315.92 275.03 318.00 274.30C320.08 273.57 322.62 273.67 324.50 272.00C326.38 270.33 327.90 267.58 329.30 264.30C330.70 261.02 331.82 258.32 332.90 252.30C333.98 246.28 334.88 236.23 335.80 228.20C336.72 220.17 337.60 209.80 338.40 204.10C339.20 198.40 339.93 196.35 340.60 194.00C341.27 191.65 341.95 190.85 342.40 190.00C342.85 189.15 342.98 188.82 343.30 188.90C343.62 188.98 343.83 189.32 344.30 190.50C344.77 191.68 345.38 192.75 346.10 196.00C346.82 199.25 347.98 204.67 348.60 210.00C349.22 215.33 349.40 223.37 349.80 228.00C350.20 232.63 350.20 232.97 351.00 237.80C351.80 242.63 353.20 252.97 354.60 257.00C356.00 261.03 357.80 261.38 359.40 262.00C361.00 262.62 362.92 261.77 364.20 260.70C365.48 259.63 366.10 255.22 367.10 255.60C368.10 255.98 369.30 261.93 370.20 263.00C371.10 264.07 371.70 263.00 372.50 262.00C373.30 261.00 374.17 257.00 375.00 257.00C375.83 257.00 376.68 260.00 377.50 262.00C378.32 264.00 378.90 266.45 379.90 269.00C380.90 271.55 381.48 275.88 383.50 277.30C385.52 278.72 390.58 277.47 392.00 277.50" fill="none" stroke="#000" stroke-width="0.7"/><line x1="300.8" y1="172.2" x2="300.8" y2="277.5" stroke="#444" stroke-width="0.7"/><line x1="300.8" y1="277.5" x2="392" y2="277.5" stroke="#444" stroke-width="0.7"/><path d="M299.0 277.5h1.8M299.0 274.9h1.8M299.0 272.3h1.8M299.0 269.7h1.8M299.0 267.1h1.8M299.0 264.5h1.8M299.0 261.9h1.8M299.0 259.3h1.8M299.0 256.7h1.8M299.0 254.1h1.8M299.0 251.5h1.8M299.0 248.9h1.8M299.0 246.3h1.8M299.0 243.7h1.8M299.0 241.1h1.8M299.0 238.5h1.8M299.0 235.9h1.8M299.0 233.3h1.8M299.0 230.7h1.8M299.0 228.1h1.8M299.0 225.5h1.8M299.0 222.9h1.8M299.0 220.3h1.8M299.0 217.7h1.8M299.0 215.1h1.8M299.0 212.5h1.8M299.0 209.9h1.8M299.0 207.3h1.8M299.0 204.7h1.8M299.0 202.1h1.8M299.0 199.5h1.8M299.0 196.9h1.8M299.0 194.3h1.8M299.0 191.7h1.8M299.0 189.1h1.8M299.0 186.5h1.8M299.0 183.9h1.8M299.0 181.3h1.8M299.0 178.7h1.8M299.0 176.1h1.8M299.0 173.5h1.8M300.8 277.5v1.5M303.6 277.5v1.5M306.3 277.5v1.5M309.1 277.5v1.5M311.8 277.5v1.5M314.6 277.5v1.5M317.4 277.5v1.5M320.1 277.5v1.5M322.9 277.5v1.5M325.7 277.5v1.5M328.4 277.5v1.5M331.2 277.5v1.5M333.9 277.5v1.5M336.7 277.5v1.5M339.5 277.5v1.5M342.2 277.5v1.5M345.0 277.5v1.5M347.8 277.5v1.5M350.5 277.5v1.5M353.3 277.5v1.5M356.0 277.5v1.5M358.8 277.5v1.5M361.6 277.5v1.5M364.3 277.5v1.5M367.1 277.5v1.5M369.9 277.5v1.5M372.6 277.5v1.5M375.4 277.5v1.5M378.1 277.5v1.5M380.9 277.5v1.5M383.7 277.5v1.5M386.4 277.5v1.5M389.2 277.5v1.5M392.0 277.5v1.5M300.8 277.5v3M322.9 277.5v3M345.0 277.5v3M367.1 277.5v3M389.2 277.5v3" stroke="#666" stroke-width="0.4"/><text font-size="3.5" x="300.8" y="284.0" text-anchor="middle" fill="#555">0</text><text font-size="3.5" x="322.9" y="284.0" text-anchor="middle" fill="#555">50</text><text font-size="3.5" x="345.0" y="284.0" text-anchor="middle" fill="#555">100</text><text font-size="3.5" x="367.1" y="284.0" text-anchor="middle" fill="#555">150</text><text font-size="3.5" x="389.2" y="284.0" text-anchor="middle" fill="#555">200</text><text font-size="4" x="355.5" y="287.7" text-anchor="middle" fill="#333">Channels (FITC-A-CFSE FITC-A)</text><text font-size="3.8" transform="translate(292.2,209) rotate(-90)" text-anchor="middle" fill="#444">Number</text><text font-size="3.6" transform="translate(298.2,234.4) rotate(-90)" text-anchor="middle" fill="#555">50</text><text font-size="3.6" transform="translate(298.2,214.2) rotate(-90)" text-anchor="middle" fill="#555">100</text><text font-size="3.6" transform="translate(298.2,202.5) rotate(-90)" text-anchor="middle" fill="#555">150</text><text font-size="3.6" transform="translate(298.2,189) rotate(-90)" text-anchor="middle" fill="#555">200</text><text x="308" y="179.2" font-size="9.1" text-anchor="start" font-weight="normal" >93.13%</text><text x="307.6" y="193.8" font-size="13.5" text-anchor="start" font-weight="bold" >iii</text><path d="M60.10 400.4L60.10 400.15L60.35 400.05L60.60 399.93L60.85 399.77L61.10 399.56L61.35 399.30L61.60 398.98L61.85 398.60L62.10 398.13L62.35 397.59L62.60 396.96L62.85 396.24L63.10 395.43L63.35 394.55L63.60 393.59L63.85 392.58L64.10 391.54L64.35 390.49L64.60 389.45L64.85 388.46L65.10 387.55L65.35 386.75L65.60 386.08L65.85 385.57L66.10 385.24L66.35 385.10L66.60 385.16L66.85 385.42L67.10 385.86L67.35 386.46L67.60 387.21L67.85 388.09L68.10 389.05L68.35 390.07L68.60 391.12L68.85 392.17L69.10 393.20L69.35 394.17L69.60 395.09L69.85 395.93L70.10 396.68L70.35 397.35L70.60 397.93L70.85 398.42L71.10 398.84L71.35 399.18L71.60 399.46L71.85 399.69L72.10 399.87L72.35 400.01L72.60 400.11L72.85 400.19L72.85 400.4Z" fill="#6a6a6a" stroke="#222" stroke-width="0.35"/><path d="M65.85 400.4L65.85 400.17L66.10 400.11L66.35 400.02L66.60 399.92L66.85 399.80L67.10 399.65L67.35 399.46L67.60 399.24L67.85 398.98L68.10 398.66L68.35 398.30L68.60 397.88L68.85 397.39L69.10 396.83L69.35 396.19L69.60 395.48L69.85 394.69L70.10 393.82L70.35 392.86L70.60 391.83L70.85 390.72L71.10 389.55L71.35 388.31L71.60 387.03L71.85 385.72L72.10 384.39L72.35 383.06L72.60 381.74L72.85 380.47L73.10 379.26L73.35 378.13L73.60 377.10L73.85 376.20L74.10 375.43L74.35 374.81L74.60 374.36L74.85 374.09L75.10 374.00L75.35 374.09L75.60 374.36L75.85 374.81L76.10 375.43L76.35 376.20L76.60 377.10L76.85 378.13L77.10 379.26L77.35 380.47L77.60 381.74L77.85 383.06L78.10 384.39L78.35 385.72L78.60 387.03L78.85 388.31L79.10 389.55L79.35 390.72L79.60 391.83L79.85 392.86L80.10 393.82L80.35 394.69L80.60 395.48L80.85 396.19L81.10 396.83L81.35 397.39L81.60 397.88L81.85 398.30L82.10 398.66L82.35 398.98L82.60 399.24L82.85 399.46L83.10 399.65L83.35 399.80L83.60 399.92L83.85 400.02L84.10 400.11L84.35 400.17L84.35 400.4Z" fill="#d2d2d2" stroke="#222" stroke-width="0.35"/><path d="M77.60 400.4L77.60 400.14L77.85 400.04L78.10 399.90L78.35 399.73L78.60 399.51L78.85 399.24L79.10 398.91L79.35 398.51L79.60 398.04L79.85 397.51L80.10 396.90L80.35 396.24L80.60 395.53L80.85 394.79L81.10 394.03L81.35 393.28L81.60 392.57L81.85 391.92L82.10 391.36L82.35 390.91L82.60 390.60L82.85 390.43L83.10 390.41L83.35 390.55L83.60 390.84L83.85 391.26L84.10 391.80L84.35 392.44L84.60 393.14L84.85 393.88L85.10 394.64L85.35 395.39L85.60 396.10L85.85 396.78L86.10 397.39L86.35 397.94L86.60 398.42L86.85 398.83L87.10 399.18L87.35 399.46L87.60 399.69L87.85 399.87L88.10 400.01L88.35 400.12L88.35 400.4Z" fill="#8c8c8c" stroke="#222" stroke-width="0.35"/><path d="M84.35 400.4L84.35 400.16L84.60 400.07L84.85 399.94L85.10 399.78L85.35 399.56L85.60 399.27L85.85 398.90L86.10 398.43L86.35 397.83L86.60 397.07L86.85 396.14L87.10 394.99L87.35 393.60L87.60 391.93L87.85 389.95L88.10 387.62L88.35 384.92L88.60 381.82L88.85 378.31L89.10 374.40L89.35 370.08L89.60 365.39L89.85 360.37L90.10 355.07L90.35 349.58L90.60 344.00L90.85 338.43L91.10 333.01L91.35 327.88L91.60 323.17L91.85 319.05L92.10 315.64L92.35 313.09L92.60 311.53L92.85 311.12L93.10 311.83L93.35 313.40L93.60 315.73L93.85 318.73L94.10 322.30L94.35 326.34L94.60 330.76L94.85 335.45L95.10 340.31L95.35 345.25L95.60 350.18L95.85 355.03L96.10 359.73L96.35 364.22L96.60 368.46L96.85 372.42L97.10 376.08L97.35 379.41L97.60 382.42L97.85 385.11L98.10 387.50L98.35 389.59L98.60 391.41L98.85 392.98L99.10 394.32L99.35 395.45L99.60 396.40L99.85 397.19L100.10 397.85L100.35 398.38L100.60 398.82L100.85 399.16L101.10 399.44L101.35 399.67L101.60 399.84L101.85 399.97L102.10 400.08L102.35 400.16L102.35 400.4Z" fill="#1c1c1c" stroke="#222" stroke-width="0.35"/><path d="M34.50 400.40C36.30 400.40 42.18 400.75 45.30 400.40C48.42 400.05 50.57 399.32 53.20 398.30C55.83 397.28 58.90 396.42 61.10 394.30C63.30 392.18 64.85 387.80 66.40 385.60C67.95 383.40 68.95 383.17 70.40 381.10C71.85 379.03 73.67 373.22 75.10 373.20C76.53 373.18 77.80 378.28 79.00 381.00C80.20 383.72 81.10 388.33 82.30 389.50C83.50 390.67 85.20 391.38 86.20 388.00C87.20 384.62 87.63 378.93 88.30 369.20C88.97 359.47 89.53 340.95 90.20 329.60C90.87 318.25 91.60 301.10 92.30 301.10C93.00 301.10 93.70 318.25 94.40 329.60C95.10 340.95 95.67 358.63 96.50 369.20C97.33 379.77 98.25 387.93 99.40 393.00C100.55 398.07 101.85 398.37 103.40 399.60C104.95 400.83 101.93 400.27 108.70 400.40C115.47 400.53 138.12 400.40 144.00 400.40" fill="none" stroke="#000" stroke-width="0.7"/><line x1="34.6" y1="294.1" x2="34.6" y2="400.4" stroke="#444" stroke-width="0.7"/><line x1="34.6" y1="400.4" x2="144" y2="400.4" stroke="#444" stroke-width="0.7"/><path d="M32.800000000000004 400.4h1.8M32.800000000000004 397.8h1.8M32.800000000000004 395.2h1.8M32.800000000000004 392.6h1.8M32.800000000000004 390.0h1.8M32.800000000000004 387.4h1.8M32.800000000000004 384.8h1.8M32.800000000000004 382.2h1.8M32.800000000000004 379.6h1.8M32.800000000000004 377.0h1.8M32.800000000000004 374.4h1.8M32.800000000000004 371.8h1.8M32.800000000000004 369.2h1.8M32.800000000000004 366.6h1.8M32.800000000000004 364.0h1.8M32.800000000000004 361.4h1.8M32.800000000000004 358.8h1.8M32.800000000000004 356.2h1.8M32.800000000000004 353.6h1.8M32.800000000000004 351.0h1.8M32.800000000000004 348.4h1.8M32.800000000000004 345.8h1.8M32.800000000000004 343.2h1.8M32.800000000000004 340.6h1.8M32.800000000000004 338.0h1.8M32.800000000000004 335.4h1.8M32.800000000000004 332.8h1.8M32.800000000000004 330.2h1.8M32.800000000000004 327.6h1.8M32.800000000000004 325.0h1.8M32.800000000000004 322.4h1.8M32.800000000000004 319.8h1.8M32.800000000000004 317.2h1.8M32.800000000000004 314.6h1.8M32.800000000000004 312.0h1.8M32.800000000000004 309.4h1.8M32.800000000000004 306.8h1.8M32.800000000000004 304.2h1.8M32.800000000000004 301.6h1.8M32.800000000000004 299.0h1.8M32.800000000000004 296.4h1.8M34.6 400.4v1.5M37.3 400.4v1.5M40.1 400.4v1.5M42.8 400.4v1.5M45.5 400.4v1.5M48.3 400.4v1.5M51.0 400.4v1.5M53.8 400.4v1.5M56.5 400.4v1.5M59.2 400.4v1.5M62.0 400.4v1.5M64.7 400.4v1.5M67.4 400.4v1.5M70.2 400.4v1.5M72.9 400.4v1.5M75.7 400.4v1.5M78.4 400.4v1.5M81.1 400.4v1.5M83.9 400.4v1.5M86.6 400.4v1.5M89.3 400.4v1.5M92.1 400.4v1.5M94.8 400.4v1.5M97.6 400.4v1.5M100.3 400.4v1.5M103.0 400.4v1.5M105.8 400.4v1.5M108.5 400.4v1.5M111.2 400.4v1.5M114.0 400.4v1.5M116.7 400.4v1.5M119.5 400.4v1.5M122.2 400.4v1.5M124.9 400.4v1.5M127.7 400.4v1.5M130.4 400.4v1.5M133.1 400.4v1.5M135.9 400.4v1.5M138.6 400.4v1.5M141.4 400.4v1.5M34.6 400.4v3M56.5 400.4v3M78.4 400.4v3M100.3 400.4v3M122.2 400.4v3M144.1 400.4v3" stroke="#666" stroke-width="0.4"/><text font-size="3.5" x="34.6" y="406.9" text-anchor="middle" fill="#555">0</text><text font-size="3.5" x="56.5" y="406.9" text-anchor="middle" fill="#555">50</text><text font-size="3.5" x="78.4" y="406.9" text-anchor="middle" fill="#555">100</text><text font-size="3.5" x="100.3" y="406.9" text-anchor="middle" fill="#555">150</text><text font-size="3.5" x="122.2" y="406.9" text-anchor="middle" fill="#555">200</text><text font-size="3.5" x="144.1" y="406.9" text-anchor="middle" fill="#555">250</text><text font-size="4" x="89.30000000000001" y="410.59999999999997" text-anchor="middle" fill="#333">Channels (FITC-A-CFSE FITC-A)</text><text font-size="3.8" transform="translate(26.0,338) rotate(-90)" text-anchor="middle" fill="#444">Number</text><text font-size="3.6" transform="translate(32.0,369) rotate(-90)" text-anchor="middle" fill="#555">50</text><text font-size="3.6" transform="translate(32.0,349) rotate(-90)" text-anchor="middle" fill="#555">100</text><text font-size="3.6" transform="translate(32.0,329) rotate(-90)" text-anchor="middle" fill="#555">150</text><text font-size="3.6" transform="translate(32.0,309) rotate(-90)" text-anchor="middle" fill="#555">200</text><text x="40" y="309.6" font-size="9.1" text-anchor="start" font-weight="normal" >42.03%</text><text x="41.6" y="329.3" font-size="13.5" text-anchor="start" font-weight="bold" >iv</text><path d="M205.00 401.00C205.00 401.00 204.85 400.99 205.00 400.98C205.15 400.97 205.60 400.98 205.90 400.94C206.20 400.91 206.50 400.81 206.80 400.77C207.10 400.73 207.40 400.72 207.70 400.71C208.00 400.69 208.30 400.78 208.60 400.71C208.90 400.64 209.20 400.44 209.50 400.30C209.80 400.16 210.10 399.99 210.40 399.86C210.70 399.73 211.00 399.78 211.30 399.52C211.60 399.27 211.90 398.57 212.20 398.34C212.50 398.10 212.80 398.32 213.10 398.10C213.40 397.88 213.70 397.34 214.00 397.02C214.30 396.71 214.60 396.40 214.90 396.22C215.20 396.04 215.50 396.02 215.80 395.94C216.10 395.86 216.40 395.74 216.70 395.73C217.00 395.73 217.30 395.81 217.60 395.91C217.90 396.01 218.20 396.00 218.50 396.32C218.80 396.64 219.10 397.51 219.40 397.84C219.70 398.17 220.00 398.12 220.30 398.32C220.60 398.52 220.90 398.78 221.20 399.05C221.50 399.31 221.80 399.69 222.10 399.93C222.40 400.16 222.70 400.42 223.00 400.49C223.30 400.55 223.60 400.29 223.90 400.34C224.20 400.39 224.50 400.69 224.80 400.77C225.10 400.86 225.50 400.83 225.70 400.87C225.90 400.91 225.95 400.98 226.00 401.00Z" fill="#8a8a8a" stroke="#222" stroke-width="0.35"/><path d="M238.55 401L238.55 400.75L238.80 400.68L239.05 400.58L239.30 400.46L239.55 400.30L239.80 400.11L240.05 399.86L240.30 399.56L240.55 399.19L240.80 398.73L241.05 398.18L241.30 397.51L241.55 396.71L241.80 395.76L242.05 394.63L242.30 393.30L242.55 391.76L242.80 389.97L243.05 387.91L243.30 385.56L243.55 382.91L243.80 379.94L244.05 376.63L244.30 372.98L244.55 368.99L244.80 364.67L245.05 360.05L245.30 355.15L245.55 350.01L245.80 344.69L246.05 339.25L246.30 333.78L246.55 328.36L246.80 323.10L247.05 318.10L247.30 313.49L247.55 309.39L247.80 305.93L248.05 303.26L248.30 301.53L248.55 301.04L248.80 302.02L249.05 304.01L249.30 306.82L249.55 310.31L249.80 314.38L250.05 318.89L250.30 323.74L250.55 328.82L250.80 334.03L251.05 339.30L251.30 344.52L251.55 349.65L251.80 354.60L252.05 359.35L252.30 363.84L252.55 368.05L252.80 371.97L253.05 375.57L253.30 378.85L253.55 381.83L253.80 384.50L254.05 386.88L254.30 388.99L254.55 390.84L254.80 392.45L255.05 393.85L255.30 395.05L255.55 396.08L255.80 396.95L256.05 397.68L256.30 398.30L256.55 398.81L256.80 399.24L257.05 399.59L257.30 399.88L257.55 400.11L257.80 400.30L258.05 400.45L258.30 400.57L258.55 400.67L258.80 400.74L258.80 401Z" fill="#1c1c1c" stroke="#222" stroke-width="0.35"/><path d="M168.40 401.00C171.17 400.98 179.73 400.95 185.00 400.90C190.27 400.85 196.83 400.77 200.00 400.70C203.17 400.63 203.17 400.45 204.00 400.50C204.83 400.55 204.68 400.91 205.00 400.98C205.32 401.06 205.60 400.98 205.90 400.94C206.20 400.91 206.50 400.81 206.80 400.77C207.10 400.73 207.40 400.72 207.70 400.71C208.00 400.69 208.30 400.78 208.60 400.71C208.90 400.64 209.20 400.44 209.50 400.30C209.80 400.16 210.10 399.99 210.40 399.86C210.70 399.73 211.00 399.78 211.30 399.52C211.60 399.27 211.90 398.57 212.20 398.34C212.50 398.10 212.80 398.32 213.10 398.10C213.40 397.88 213.70 397.34 214.00 397.02C214.30 396.71 214.60 396.40 214.90 396.22C215.20 396.04 215.50 396.02 215.80 395.94C216.10 395.86 216.40 395.74 216.70 395.73C217.00 395.73 217.30 395.81 217.60 395.91C217.90 396.01 218.20 396.00 218.50 396.32C218.80 396.64 219.10 397.51 219.40 397.84C219.70 398.17 220.00 398.12 220.30 398.32C220.60 398.52 220.90 398.78 221.20 399.05C221.50 399.31 221.80 399.69 222.10 399.93C222.40 400.16 222.70 400.42 223.00 400.49C223.30 400.55 223.60 400.29 223.90 400.34C224.20 400.39 224.50 400.69 224.80 400.77C225.10 400.86 224.83 400.90 225.70 400.87C226.57 400.84 228.53 400.64 230.00 400.60C231.47 400.56 233.60 400.67 234.50 400.63C235.40 400.60 235.10 400.62 235.40 400.38C235.70 400.14 236.00 399.46 236.30 399.21C236.60 398.95 236.90 399.16 237.20 398.86C237.50 398.55 237.80 397.58 238.10 397.39C238.40 397.20 238.70 397.58 239.00 397.72C239.30 397.86 239.60 397.88 239.90 398.25C240.20 398.62 240.50 399.61 240.80 399.94C241.10 400.28 241.25 403.25 241.70 400.26C242.15 397.27 242.87 391.21 243.50 382.00C244.13 372.79 244.87 357.00 245.50 345.00C246.13 333.00 246.85 318.17 247.30 310.00C247.75 301.83 247.95 298.33 248.20 296.00C248.45 293.67 248.53 293.67 248.80 296.00C249.07 298.33 249.35 301.83 249.80 310.00C250.25 318.17 250.88 333.33 251.50 345.00C252.12 356.67 252.83 371.67 253.50 380.00C254.17 388.33 254.83 391.70 255.50 395.00C256.17 398.30 256.42 398.80 257.50 399.80C258.58 400.80 258.92 400.80 262.00 401.00C265.08 401.20 273.67 401.00 276.00 401.00" fill="none" stroke="#000" stroke-width="0.7"/><line x1="168.3" y1="294.1" x2="168.3" y2="401" stroke="#444" stroke-width="0.7"/><line x1="168.3" y1="401" x2="276" y2="401" stroke="#444" stroke-width="0.7"/><path d="M166.5 401.0h1.8M166.5 398.4h1.8M166.5 395.8h1.8M166.5 393.2h1.8M166.5 390.6h1.8M166.5 388.0h1.8M166.5 385.4h1.8M166.5 382.8h1.8M166.5 380.2h1.8M166.5 377.6h1.8M166.5 375.0h1.8M166.5 372.4h1.8M166.5 369.8h1.8M166.5 367.2h1.8M166.5 364.6h1.8M166.5 362.0h1.8M166.5 359.4h1.8M166.5 356.8h1.8M166.5 354.2h1.8M166.5 351.6h1.8M166.5 349.0h1.8M166.5 346.4h1.8M166.5 343.8h1.8M166.5 341.2h1.8M166.5 338.6h1.8M166.5 336.0h1.8M166.5 333.4h1.8M166.5 330.8h1.8M166.5 328.2h1.8M166.5 325.6h1.8M166.5 323.0h1.8M166.5 320.4h1.8M166.5 317.8h1.8M166.5 315.2h1.8M166.5 312.6h1.8M166.5 310.0h1.8M166.5 307.4h1.8M166.5 304.8h1.8M166.5 302.2h1.8M166.5 299.6h1.8M166.5 297.0h1.8M166.5 294.4h1.8M168.3 401v1.5M171.0 401v1.5M173.7 401v1.5M176.4 401v1.5M179.2 401v1.5M181.9 401v1.5M184.6 401v1.5M187.3 401v1.5M190.0 401v1.5M192.7 401v1.5M195.4 401v1.5M198.1 401v1.5M200.9 401v1.5M203.6 401v1.5M206.3 401v1.5M209.0 401v1.5M211.7 401v1.5M214.4 401v1.5M217.1 401v1.5M219.8 401v1.5M222.6 401v1.5M225.3 401v1.5M228.0 401v1.5M230.7 401v1.5M233.4 401v1.5M236.1 401v1.5M238.8 401v1.5M241.5 401v1.5M244.3 401v1.5M247.0 401v1.5M249.7 401v1.5M252.4 401v1.5M255.1 401v1.5M257.8 401v1.5M260.5 401v1.5M263.2 401v1.5M266.0 401v1.5M268.7 401v1.5M271.4 401v1.5M274.1 401v1.5M168.3 401v3M190.0 401v3M211.7 401v3M233.4 401v3M255.1 401v3M276.8 401v3" stroke="#666" stroke-width="0.4"/><text font-size="3.5" x="168.3" y="407.5" text-anchor="middle" fill="#555">0</text><text font-size="3.5" x="190.0" y="407.5" text-anchor="middle" fill="#555">40</text><text font-size="3.5" x="211.7" y="407.5" text-anchor="middle" fill="#555">80</text><text font-size="3.5" x="233.4" y="407.5" text-anchor="middle" fill="#555">120</text><text font-size="3.5" x="255.1" y="407.5" text-anchor="middle" fill="#555">160</text><text font-size="3.5" x="276.8" y="407.5" text-anchor="middle" fill="#555">200</text><text font-size="4" x="223.0" y="411.2" text-anchor="middle" fill="#333">Channels (FITC-A-CFSE FITC-A)</text><text font-size="3.8" transform="translate(159.70000000000002,332) rotate(-90)" text-anchor="middle" fill="#444">Number</text><text font-size="3.6" transform="translate(165.70000000000002,379) rotate(-90)" text-anchor="middle" fill="#555">20</text><text font-size="3.6" transform="translate(165.70000000000002,351) rotate(-90)" text-anchor="middle" fill="#555">40</text><text font-size="3.6" transform="translate(165.70000000000002,322) rotate(-90)" text-anchor="middle" fill="#555">60</text><text font-size="3.6" transform="translate(165.70000000000002,314) rotate(-90)" text-anchor="middle" fill="#555">80</text><text x="173.9" y="309.4" font-size="9.1" text-anchor="start" font-weight="normal" >7.49%</text><text x="176.2" y="328.3" font-size="13.5" text-anchor="start" font-weight="bold" >v</text></svg></body></html>
